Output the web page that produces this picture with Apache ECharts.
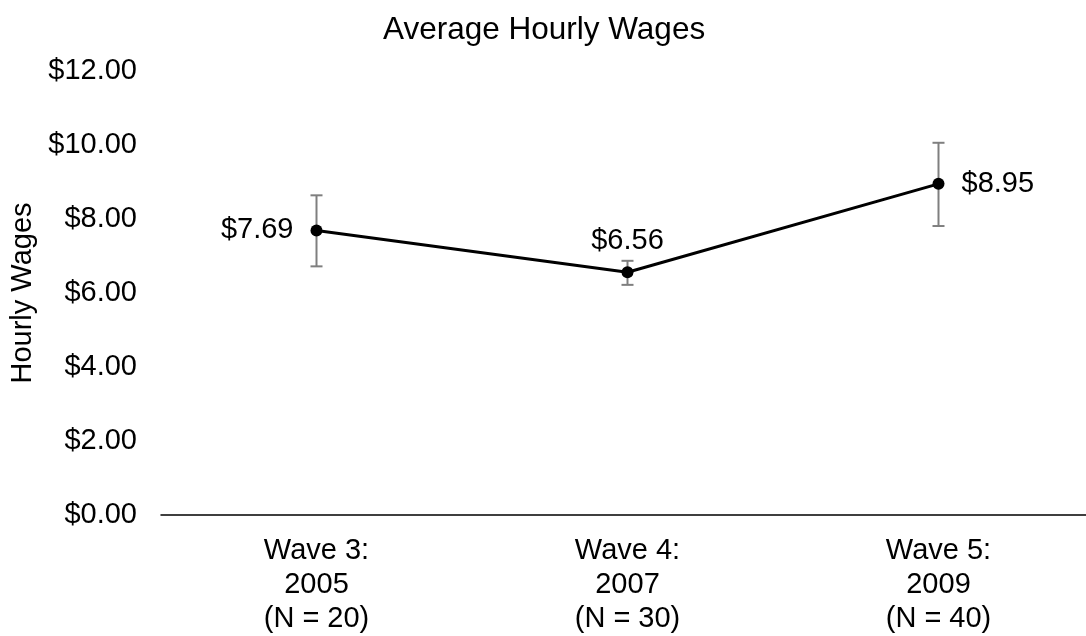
<!DOCTYPE html>
<html>
<head>
<meta charset="utf-8">
<script src="https://cdn.jsdelivr.net/npm/echarts@6/dist/echarts.min.js"></script>
<style>html,body{margin:0;padding:0;background:#fff;overflow:hidden;width:1086px;height:636px}#c{width:1100px;height:636px}</style>
</head>
<body>
<div id="c"></div>
<script>
const categories = ['Wave 3:\n2005\n(N = 20)', 'Wave 4:\n2007\n(N = 30)', 'Wave 5:\n2009\n(N = 40)'];
const means = [7.69, 6.56, 8.95];
const errLow = [6.72, 6.22, 7.81];
const errHigh = [8.64, 6.87, 10.06];
const yTicks = [0, 2, 4, 6, 8, 10, 12];

const labelPos = ['left', 'top', 'right'];
const labelDist = [17, 11, 17];
const FONT = '"Liberation Sans", Arial, sans-serif';

const chart = echarts.init(document.getElementById('c'));
chart.setOption({
  animation: false,
  textStyle: { fontFamily: FONT },
  title: {
    text: 'Average Hourly Wages', left: 378, top: 9, padding: 5,
    textStyle: { fontFamily: FONT, fontSize: 31.5, fontWeight: 'normal', color: '#000' }
  },
  grid: { left: 161, right: 6, top: 71, bottom: 119, containLabel: false },
  xAxis: {
    type: 'category', data: categories, boundaryGap: true,
    axisLine: { show: true, lineStyle: { color: '#000', width: 1.5 } },
    axisTick: { show: false },
    axisLabel: { fontFamily: FONT, fontSize: 29, color: '#000', lineHeight: 34, margin: 19, interval: 0 }
  },
  yAxis: {
    type: 'value', min: yTicks[0], max: yTicks[yTicks.length - 1], interval: 2,
    name: 'Hourly Wages', nameLocation: 'middle', nameGap: 124,
    nameTextStyle: { fontFamily: FONT, fontSize: 29, color: '#000' },
    axisLine: { show: false }, axisTick: { show: false }, splitLine: { show: false },
    axisLabel: { fontFamily: FONT, fontSize: 29, color: '#000', margin: 24,
      formatter: v => '$' + v.toFixed(2) }
  },
  series: [
    {
      type: 'custom',
      data: categories.map((c, i) => [i, errLow[i], errHigh[i]]),
      renderItem: (params, api) => {
        const x = api.value(0);
        const lo = api.coord([x, api.value(1)]);
        const hi = api.coord([x, api.value(2)]);
        const w = 6;
        const style = { stroke: '#7f7f7f', lineWidth: 2 };
        return {
          type: 'group', children: [
            { type: 'line', shape: { x1: hi[0], y1: hi[1], x2: lo[0], y2: lo[1] }, style },
            { type: 'line', shape: { x1: hi[0] - w, y1: hi[1], x2: hi[0] + w, y2: hi[1] }, style },
            { type: 'line', shape: { x1: lo[0] - w, y1: lo[1], x2: lo[0] + w, y2: lo[1] }, style }
          ]
        };
      },
      z: 1
    },
    {
      type: 'line',
      data: means.map((v, i) => ({
        value: v,
        label: { position: labelPos[i], distance: labelDist[i] }
      })),
      symbol: 'circle', symbolSize: 12,
      lineStyle: { color: '#000', width: 3 },
      itemStyle: { color: '#000' },
      label: {
        show: true, fontFamily: FONT, fontSize: 29, color: '#000',
        formatter: p => '$' + p.value.toFixed(2)
      },
      z: 2
    }
  ]
});
</script>
</body>
</html>
